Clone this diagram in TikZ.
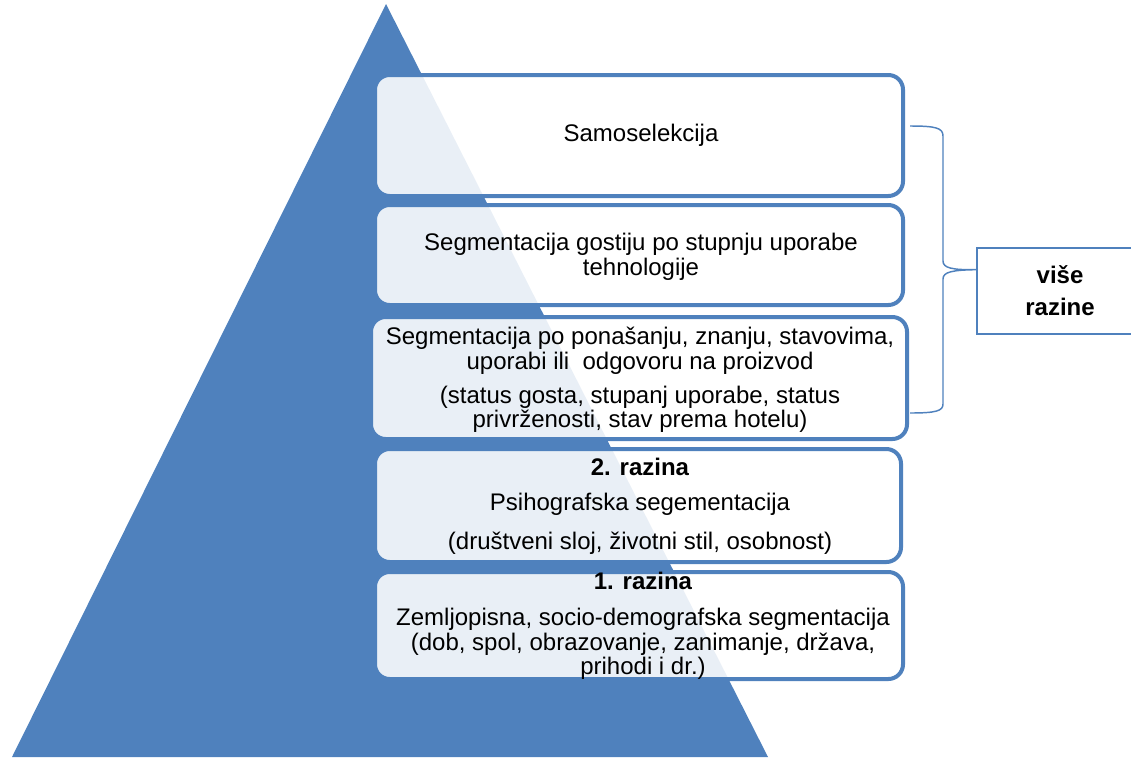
\documentclass[tikz,border=0pt]{standalone}
\usepackage{fontspec}
\setmainfont{Liberation Sans}
\usetikzlibrary{calc}

\definecolor{triblue}{HTML}{4F81BD}

\tikzset{every picture/.style={line width=0.75pt}}
\tikzset{
  levelbox/.style={draw=triblue, line width=3pt, fill=white, fill opacity=0.88, rounded corners=11pt},
  lbl/.style={align=center, text=black, inner sep=0.75pt, font=\fontsize{18}{18.4}\selectfont},
  brc/.style={draw=triblue, line width=1.1pt},
}

\begin{document}
\begin{tikzpicture}[x=0.75pt,y=0.75pt,yscale=-1,xscale=1]
    \useasboundingbox (0,0) rectangle (1131,757);

    %Shape: Triangle [id:dp_pyramid]
    \fill [triblue] (386,4) -- (768,757) -- (12,757) -- cycle ;

    %Shape: Rounded Rect [id:dp_box1]
    \draw [levelbox] (375,75) rectangle (903,196) ;
    %Shape: Rounded Rect [id:dp_box2]
    \draw [levelbox] (375,205) rectangle (903,305) ;
    %Shape: Rounded Rect [id:dp_box3]
    \draw [levelbox] (371,317) rectangle (907,439) ;
    %Shape: Rounded Rect [id:dp_box4]
    \draw [levelbox] (375,449) rectangle (901,562) ;
    %Shape: Rounded Rect [id:dp_box5]
    \draw [levelbox] (375,572) rectangle (903,679) ;

    % Text Node
    \draw (641,135) node (samo) [lbl] {Samoselekcija};
    % Text Node
    \draw (641,257) node (tehno) [lbl] {Segmentacija gostiju po stupnju uporabe\\tehnologije};
    % Text Node
    \draw (640,380) node (ponas) [lbl] {Segmentacija po ponašanju, znanju, stavovima,\\uporabi ili\ \ odgovoru na proizvod\\[7pt](status gosta, stupanj uporabe, status\\privrženosti, stav prema hotelu)};
    % Text Node
    \draw (640,506) node (razina2) [lbl] {\textbf{2. razina}\\[7.9pt]Psihografska segementacija\\[10.9pt](društveni sloj, životni stil, osobnost)};
    % Text Node
    \draw (643,626) node (razina1) [lbl] {\textbf{1. razina}\\[8.6pt]Zemljopisna, socio-demografska segmentacija\\(dob, spol, obrazovanje, zanimanje, država,\\prihodi i dr.)};

    % Text Node
    \draw (1060,291) node (vise) [lbl, draw=triblue, line width=1pt, minimum width=124.5pt, minimum height=64.5pt] {\textbf{više}\\[5.6pt]\textbf{razine}};

    %Brace
    \coordinate (bracetop) at (910,126);
    \coordinate (bracebot) at (910,413);
    \coordinate (bracetip) at ($(vise.north west)!0.256!(vise.south west)$);
    \draw [brc] (bracetop) .. controls (936,126) and (943,128) .. (943,136) -- (943,261) .. controls (943,268) and (952,270) .. (bracetip) .. controls (952,270) and (943,272) .. (943,279) -- (943,404) .. controls (943,411) and (936,413) .. (bracebot) ;

\end{tikzpicture}
\end{document}
